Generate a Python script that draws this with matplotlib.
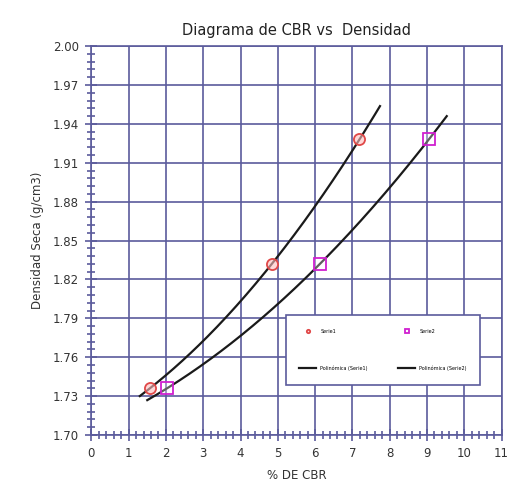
import numpy as np
import matplotlib
matplotlib.use("Agg")
import matplotlib.pyplot as plt
from matplotlib.ticker import MultipleLocator, FixedLocator, FormatStrFormatter

# Data
cbr_a = [1.57, 4.84, 7.19]
dens_a = [1.736, 1.832, 1.928]
cbr_b = [2.03, 6.13, 9.05]
dens_b = [1.736, 1.832, 1.928]
trend_a_range = [1.30, 7.74]
trend_b_range = [1.50, 9.53]
y_ticks = [1.70, 1.73, 1.76, 1.79, 1.82, 1.85, 1.88, 1.91, 1.94, 1.97, 2.00]
labels = ["Serie1", "Polinómica (Serie1)", "Serie2", "Polinómica (Serie2)"]
title = "Diagrama de CBR vs  Densidad"
xlabel = "% DE CBR"
ylabel = "Densidad Seca (g/cm3)"

grid_c = "#5b5b9c"
text_c = "#333333"

fig = plt.figure(figsize=(5.16, 4.96), dpi=100)
ax = fig.add_axes([0.177, 0.123, 0.795, 0.784])

ca = np.polyfit(cbr_a, dens_a, 2)
cb = np.polyfit(cbr_b, dens_b, 2)
xa = np.linspace(*trend_a_range, 200)
xb = np.linspace(*trend_b_range, 200)

h1, = ax.plot(cbr_a, dens_a, 'o', ms=8, mfc=(1, 0.75, 0.75, 0.6), mec="#e04848", mew=1.3, zorder=4)
h2, = ax.plot(xa, np.polyval(ca, xa), '-', color="#1a1a1a", lw=1.6, zorder=3)
h3, = ax.plot(cbr_b, dens_b, 's', ms=8, mfc=(1, 1, 1, 0.3), mec="#d020d0", mew=1.3, zorder=4)
h4, = ax.plot(xb, np.polyval(cb, xb), '-', color="#1a1a1a", lw=1.6, zorder=3)

ax.set_xlim(0, 11)
ax.set_ylim(1.70, 2.00)
ax.xaxis.set_major_locator(MultipleLocator(1))
ax.xaxis.set_minor_locator(MultipleLocator(0.2))
ax.yaxis.set_major_locator(FixedLocator(y_ticks))
minor_y = [y_ticks[0] + i * 0.006 for i in range(51)]
ax.yaxis.set_minor_locator(FixedLocator(minor_y))
ax.yaxis.set_major_formatter(FormatStrFormatter('%.2f'))

ax.grid(True, which='major', color=grid_c, lw=1.2)
ax.set_axisbelow(True)
for s in ax.spines.values():
    s.set_color(grid_c)
    s.set_linewidth(1.2)
ax.tick_params(which='both', direction='inout', color=grid_c, width=1.2, top=False, right=False)
ax.tick_params(which='major', length=8, labelsize=8.5, labelcolor=text_c, pad=5)
ax.tick_params(which='minor', length=6)

ax.set_title(title, fontsize=10.5, color="#222222", pad=8)
ax.set_xlabel(xlabel, fontsize=8.5, color=text_c, labelpad=6)
ax.set_ylabel(ylabel, fontsize=8.5, color=text_c, labelpad=6)

leg = ax.legend([h1, h2, h3, h4], labels, ncol=2, loc='upper left',
                bbox_to_anchor=(0.468, 0.139, 0.486, 0.175), mode='expand',
                fontsize=3.5, markerscale=0.3, frameon=True, fancybox=False,
                edgecolor=grid_c, handlelength=3.5, labelspacing=6.5,
                borderpad=2.8, columnspacing=1.5)
leg.get_frame().set_linewidth(1.2)
leg.get_frame().set_alpha(1)

fig.savefig("out.png", dpi=100)
